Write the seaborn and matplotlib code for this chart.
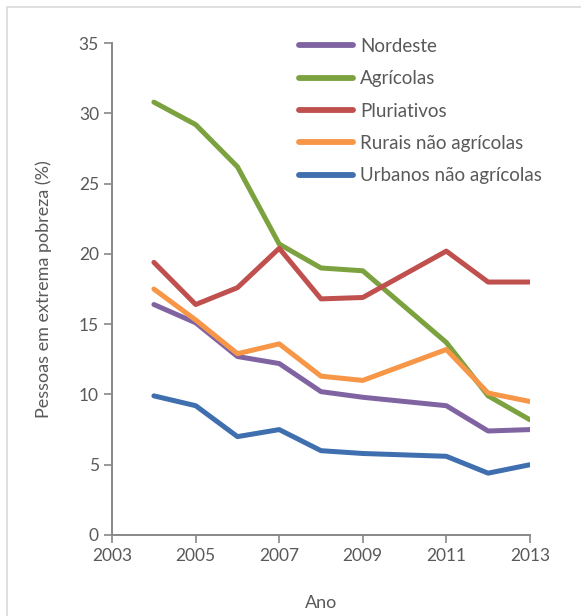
import numpy as np
import pandas as pd
import matplotlib
matplotlib.use("Agg")
import matplotlib.pyplot as plt
import seaborn as sns
from matplotlib.patches import Rectangle

anos = [2004, 2005, 2006, 2007, 2008, 2009, 2011, 2012, 2013]
nordeste = [16.4, 15.1, 12.7, 12.2, 10.2, 9.8, 9.2, 7.4, 7.5]
agricolas = [30.8, 29.2, 26.2, 20.7, 19.0, 18.8, 13.7, 9.9, 8.2]
pluriativos = [19.4, 16.4, 17.6, 20.4, 16.8, 16.9, 20.2, 18.0, 18.0]
rurais_nao_agr = [17.5, 15.3, 12.9, 13.6, 11.3, 11.0, 13.2, 10.1, 9.5]
urbanos_nao_agr = [9.9, 9.2, 7.0, 7.5, 6.0, 5.8, 5.6, 4.4, 5.0]

series = ["Nordeste", "Agrícolas", "Pluriativos", "Rurais não agrícolas", "Urbanos não agrícolas"]
cores = ["#8064A2", "#7BA23F", "#C0504D", "#F79646", "#3F6FAE"]

df = pd.DataFrame({"Ano": anos, "Nordeste": nordeste, "Agrícolas": agricolas,
                   "Pluriativos": pluriativos, "Rurais não agrícolas": rurais_nao_agr,
                   "Urbanos não agrícolas": urbanos_nao_agr})
df_long = df.melt(id_vars="Ano", var_name="Grupo", value_name="Pobreza")

sns.set_style("white")
plt.rcParams['font.family'] = ['Lato', 'DejaVu Sans']
cinza = "#595959"

fig = plt.figure(figsize=(5.81, 6.16), dpi=100)
ax = fig.add_axes([0.193, 0.1315, 0.719, 0.7985])

sns.lineplot(data=df_long, x="Ano", y="Pobreza", hue="Grupo", hue_order=series,
             palette=cores, linewidth=3.6, ax=ax)

ax.set_xlim(2003, 2013)
ax.set_ylim(0, 35)
ax.set_xticks(range(2003, 2014, 2))
ax.set_yticks(range(0, 36, 5))
ax.tick_params(axis="both", colors="#888888", labelcolor=cinza, labelsize=12.5,
               direction="out", length=6, width=1.2, bottom=True, left=True)
ax.set_xlabel("Ano", fontsize=13, color=cinza, labelpad=22)
ax.set_ylabel("Pessoas em extrema pobreza (%)", fontsize=13, color=cinza, labelpad=19)
for s in ["top", "right"]:
    ax.spines[s].set_visible(False)
for s in ["left", "bottom"]:
    ax.spines[s].set_color("#888888")
    ax.spines[s].set_linewidth(1.4)

leg = ax.legend(loc="upper left", bbox_to_anchor=(0.407, 1.045), frameon=False,
                fontsize=13.5, handlelength=2.9, handletextpad=0.35, labelspacing=0.82)
for t in leg.get_texts():
    t.set_color(cinza)
for h in leg.get_lines():
    h.set_linewidth(4.2)

fig.patches.append(Rectangle((0.012, -0.01), 1.0, 0.999, transform=fig.transFigure,
                             fill=False, edgecolor="#d9d9d9", linewidth=1.2))

fig.savefig("out.png", dpi=100)
